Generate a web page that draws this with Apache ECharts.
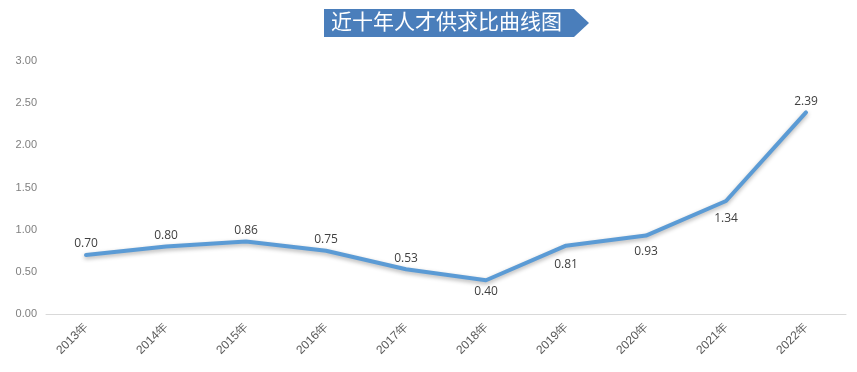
<!DOCTYPE html>
<html>
<head>
<meta charset="utf-8">
<script src="https://cdn.jsdelivr.net/npm/echarts@6/dist/echarts.min.js"></script>
<style>
html,body{margin:0;padding:0;background:#fff;}
#c{width:857px;height:372px;}
</style>
</head>
<body>
<div id="c"></div>
<script>
const categories = ['2013年','2014年','2015年','2016年','2017年','2018年','2019年','2020年','2021年','2022年'];
const values = [0.70, 0.80, 0.86, 0.75, 0.53, 0.40, 0.81, 0.93, 1.34, 2.39];
const labelPositions = ['top','top','top','top','top','bottom','bottom','bottom','bottom','top'];
const labelDistances = [4, 4, 4, 4, 4, 4, 12, 9, 11, 4];
const titleText = '近十年人才供求比曲线图';

const chart = echarts.init(document.getElementById('c'), null, {renderer:'canvas'});
chart.setOption({
  backgroundColor: '#fff',
  animation: false,
  grid: {left: 46, right: 11, top: 61, bottom: 58, containLabel: false},
  graphic: [
    {
      type: 'polygon',
      shape: {points: [[324,9],[574,9],[589,23],[574,37],[324,37]]},
      style: {fill: '#4a7ebb'}
    },
    {
      type: 'text',
      left: 331, top: 11,
      style: {text: titleText, fill: '#fff', font: '21px "Noto Sans CJK SC"'}
    }
  ],
  xAxis: {
    type: 'category',
    data: categories,
    boundaryGap: true,
    axisLine: {lineStyle: {color: '#d9d9d9', width: 1}},
    axisTick: {show: false},
    axisLabel: {rotate: 45, color: '#595959', fontSize: 12, fontFamily: 'Liberation Sans', margin: 11}
  },
  yAxis: {
    type: 'value',
    min: 0, max: 3, interval: 0.5,
    axisLine: {show: false},
    axisTick: {show: false},
    splitLine: {show: false},
    axisLabel: {color: '#7f7f7f', fontSize: 11, fontFamily: 'Liberation Sans', margin: 9,
      formatter: v => v.toFixed(2)}
  },
  series: [{
    type: 'line',
    data: values.map((v, i) => ({value: v, label: {position: labelPositions[i], distance: labelDistances[i]}})),
    showSymbol: true,
    symbol: 'circle',
    symbolSize: 2,
    lineStyle: {color: '#5b9bd5', width: 4, shadowColor: 'rgba(0,0,0,0.3)', shadowBlur: 4, shadowOffsetY: 2, cap: 'round', join: 'round'},
    itemStyle: {color: 'rgba(91,155,213,0)', borderWidth: 0},
    label: {show: true, color: '#404040', fontSize: 12, fontFamily: 'Open Sans',
      formatter: p => p.value.toFixed(2)}
  }]
});
</script>
</body>
</html>
